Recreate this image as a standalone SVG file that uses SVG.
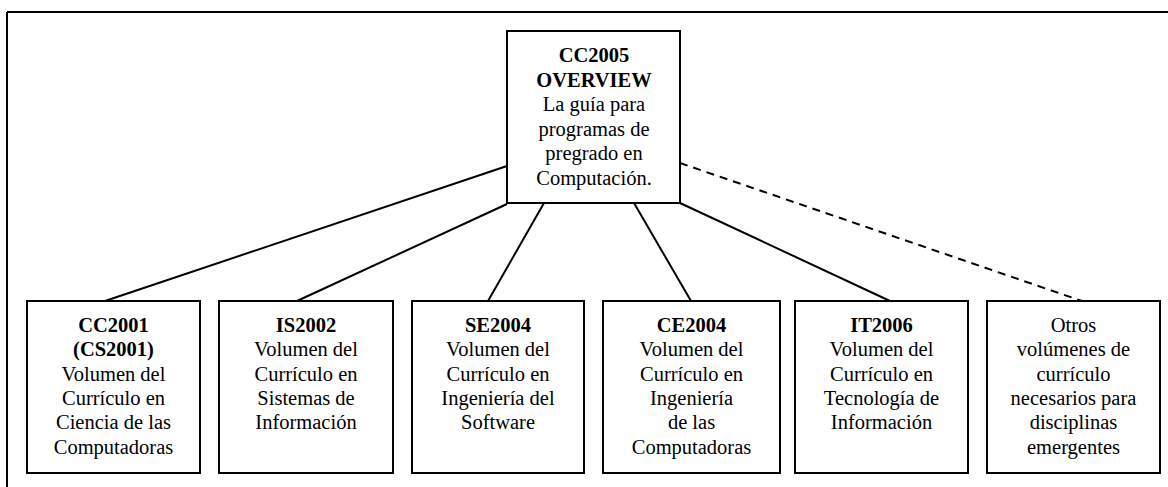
<svg xmlns="http://www.w3.org/2000/svg" width="1168" height="487" viewBox="0 0 1168 487">
<style>
.box{fill:#fff;stroke:#000;stroke-width:2}
.ln{stroke:#000;stroke-width:2;fill:none}
.dash{stroke:#000;stroke-width:2;fill:none;stroke-dasharray:8,6}
text{font-family:"Liberation Serif","Times New Roman",serif;font-size:20.5px;fill:#000;text-anchor:middle}
.b{font-weight:bold}
</style>
<rect x="0" y="0" width="1168" height="487" fill="#fff"/>
<g id="frame">
<line class="ln" x1="7" y1="12" x2="1168" y2="12"/>
<line class="ln" x1="7" y1="12" x2="7" y2="487"/>
</g>
<g id="connectors">
<line class="ln" x1="507" y1="166" x2="105" y2="301"/>
<line class="ln" x1="507" y1="204" x2="297" y2="301"/>
<line class="ln" x1="544" y1="203" x2="488" y2="301"/>
<line class="ln" x1="634" y1="203" x2="691" y2="301"/>
<line class="ln" x1="680" y1="203" x2="890" y2="301"/>
<line class="dash" x1="680" y1="163" x2="1082" y2="301"/>
</g>
<g id="root">
<rect class="box" x="507" y="31" width="173" height="172"/>
<text x="594" y="62" class="b">CC2005</text>
<text x="594" y="86.5" class="b">OVERVIEW</text>
<text x="594" y="111">La guía para</text>
<text x="594" y="135.5">programas de</text>
<text x="594" y="160">pregrado en</text>
<text x="594" y="184.5">Computación.</text>
</g>
<g id="cc2001">
<rect class="box" x="27" y="301" width="173" height="172"/>
<text x="113.5" y="332" class="b">CC2001</text>
<text x="113.5" y="356.3" class="b">(CS2001)</text>
<text x="113.5" y="380.6">Volumen del</text>
<text x="113.5" y="404.9">Currículo en</text>
<text x="113.5" y="429.2">Ciencia de las</text>
<text x="113.5" y="453.5">Computadoras</text>
</g>
<g id="is2002">
<rect class="box" x="219" y="301" width="174" height="172"/>
<text x="306" y="332" class="b">IS2002</text>
<text x="306" y="356.3">Volumen del</text>
<text x="306" y="380.6">Currículo en</text>
<text x="306" y="404.9">Sistemas de</text>
<text x="306" y="429.2">Información</text>
</g>
<g id="se2004">
<rect class="box" x="412" y="301" width="172" height="172"/>
<text x="498" y="332" class="b">SE2004</text>
<text x="498" y="356.3">Volumen del</text>
<text x="498" y="380.6">Currículo en</text>
<text x="498" y="404.9">Ingeniería del</text>
<text x="498" y="429.2">Software</text>
</g>
<g id="ce2004">
<rect class="box" x="603" y="301" width="177" height="172"/>
<text x="691.5" y="332" class="b">CE2004</text>
<text x="691.5" y="356.3">Volumen del</text>
<text x="691.5" y="380.6">Currículo en</text>
<text x="691.5" y="404.9">Ingeniería</text>
<text x="691.5" y="429.2">de las</text>
<text x="691.5" y="453.5">Computadoras</text>
</g>
<g id="it2006">
<rect class="box" x="795" y="301" width="173" height="172"/>
<text x="881.5" y="332" class="b">IT2006</text>
<text x="881.5" y="356.3">Volumen del</text>
<text x="881.5" y="380.6">Currículo en</text>
<text x="881.5" y="404.9">Tecnología de</text>
<text x="881.5" y="429.2">Información</text>
</g>
<g id="otros">
<rect class="box" x="987" y="301" width="173" height="172"/>
<text x="1073.5" y="332">Otros</text>
<text x="1073.5" y="356.3">volúmenes de</text>
<text x="1073.5" y="380.6">currículo</text>
<text x="1073.5" y="404.9">necesarios para</text>
<text x="1073.5" y="429.2">disciplinas</text>
<text x="1073.5" y="453.5">emergentes</text>
</g>
</svg>
